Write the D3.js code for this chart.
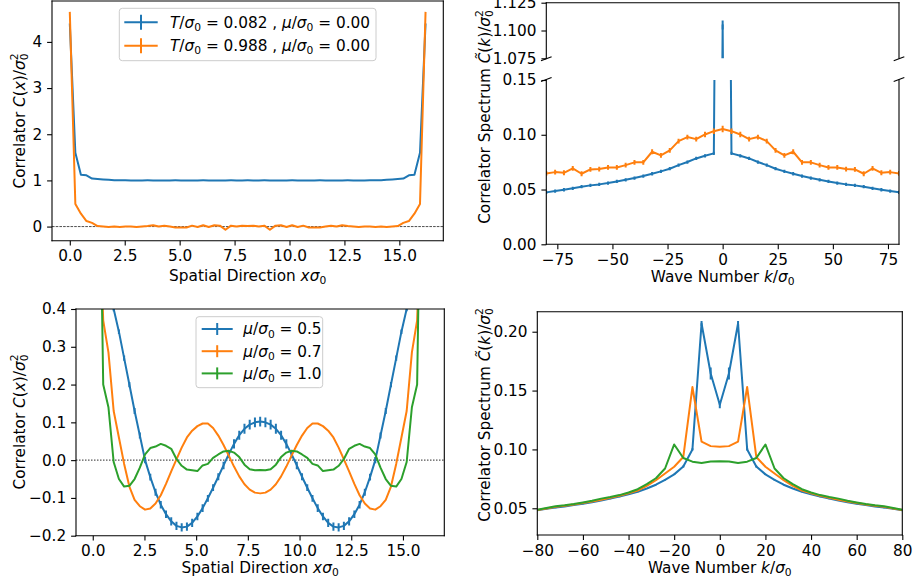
<!DOCTYPE html>
<html>
<head>
<meta charset="utf-8">
<script src="https://cdn.jsdelivr.net/npm/d3@7"></script>
<style>
  body { margin: 0; background: #fff; }
  svg { display: block; font-family: "DejaVu Sans", sans-serif; }
</style>
</head>
<body>
<svg id="chart" width="913" height="584"></svg>
<script>
// position-space lattice (left panels)
const latticeSpacing = 0.253;
const nSites = 65;
const xSites = d3.range(nSites).map(i => i * latticeSpacing);

// momentum grid (right panels)
const kWave = [-80, -76, -72, -68, -64, -60, -56, -52, -48, -44, -40, -36, -32, -28, -24, -20, -16, -12, -8, -4,
    0, 4, 8, 12, 16, 20, 24, 28, 32, 36, 40, 44, 48, 52, 56, 60, 64, 68, 72, 76, 80];

// top left: correlator at two temperatures, mu = 0
const corrLowT = [4.40, 1.60, 1.12, 1.11, 1.04, 1.03, 1.02, 1.012, 1.006, 1.003, 1.001,
    1.000, 0.999, 1.000, 1.001, 1.000, 0.999, 1.000, 1.000, 1.001, 1.000, 0.999,
    1.000, 1.000, 1.001, 1.000, 0.999, 1.000, 1.000, 1.001, 1.000, 1.000, 1.001,
    1.000, 1.000, 1.001, 1.000, 1.000, 0.999, 1.000, 1.001, 1.000, 1.000, 0.999,
    1.000, 1.001, 1.000, 1.000, 0.999, 1.000, 1.001, 1.000, 0.999, 1.000, 1.001,
    1.003, 1.006, 1.012, 1.02, 1.03, 1.04, 1.11, 1.12, 1.60, 4.40];
const corrHighT = [4.65, 0.49, 0.28, 0.12, 0.08, 0.01, 0.00, -0.01, 0.00, -0.01, 0.00,
    0.00, -0.01, 0.00, 0.01, 0.03, 0.00, 0.02, 0.00, -0.02, -0.02, -0.02,
    0.02, -0.01, 0.03, -0.01, 0.03, 0.02, -0.07, 0.02, 0.00, 0.02, 0.01,
    0.02, 0.00, 0.02, -0.07, 0.02, 0.03, -0.01, 0.03, -0.01, 0.02, -0.02,
    -0.02, -0.02, 0.00, 0.02, 0.00, 0.03, 0.01, 0.00, -0.01, 0.00, 0.00,
    -0.01, 0.00, -0.01, 0.00, 0.01, 0.08, 0.12, 0.28, 0.49, 4.65];

// top right: spectrum at two temperatures
const specLowT = [0.0474, 0.0486, 0.0498, 0.0511, 0.0526, 0.0538, 0.0547, 0.0559, 0.0574, 0.0589,
    0.0605, 0.0623, 0.0644, 0.0666, 0.0690, 0.0723, 0.0751, 0.0784, 0.0808, 0.0830,
    1.105,
    0.0830, 0.0808, 0.0784, 0.0751, 0.0723, 0.0690, 0.0666, 0.0644, 0.0623, 0.0605,
    0.0589, 0.0574, 0.0559, 0.0547, 0.0538, 0.0526, 0.0511, 0.0498, 0.0486, 0.0474];
const specLowTErr = [0.0015, 0.0015, 0.0015, 0.0015, 0.0015, 0.0015, 0.0015, 0.0015, 0.0015, 0.0015,
    0.0015, 0.0015, 0.0015, 0.0015, 0.0015, 0.0015, 0.0015, 0.0015, 0.0015, 0.0015,
    0.004,
    0.0015, 0.0015, 0.0015, 0.0015, 0.0015, 0.0015, 0.0015, 0.0015, 0.0015, 0.0015,
    0.0015, 0.0015, 0.0015, 0.0015, 0.0015, 0.0015, 0.0015, 0.0015, 0.0015, 0.0015];
const specHighT = [0.0647, 0.0659, 0.0653, 0.0693, 0.0644, 0.0684, 0.0687, 0.0702, 0.0702, 0.0723,
    0.0748, 0.0748, 0.0845, 0.0812, 0.0857, 0.0942, 0.0979, 0.0960, 0.1003, 0.1033,
    0.1052,
    0.1033, 0.1003, 0.0960, 0.0979, 0.0942, 0.0857, 0.0812, 0.0845, 0.0748, 0.0748,
    0.0723, 0.0702, 0.0702, 0.0687, 0.0684, 0.0644, 0.0693, 0.0653, 0.0659, 0.0647];
const specHighTErr = [0.0022, 0.0022, 0.0022, 0.0022, 0.0022, 0.0022, 0.0022, 0.0022, 0.0022, 0.0022,
    0.0022, 0.0022, 0.0022, 0.0022, 0.0022, 0.0022, 0.0022, 0.0022, 0.0025, 0.0025,
    0.003,
    0.0025, 0.0025, 0.0022, 0.0022, 0.0022, 0.0022, 0.0022, 0.0022, 0.0022, 0.0022,
    0.0022, 0.0022, 0.0022, 0.0022, 0.0022, 0.0022, 0.0022, 0.0022, 0.0022, 0.0022];

// bottom left: correlator at three chemical potentials
const corrMu05 = [4.20, 1.50, 0.85, 0.55, 0.40, 0.34, 0.27, 0.20, 0.13, 0.065, 0.000,
    -0.045, -0.085, -0.118, -0.143, -0.162, -0.174, -0.178, -0.176, -0.166, -0.149, -0.127,
    -0.101, -0.073, -0.044, -0.014, 0.016, 0.043, 0.066, 0.083, 0.094, 0.100, 0.102,
    0.100, 0.094, 0.083, 0.066, 0.043, 0.016, -0.014, -0.044, -0.073, -0.101, -0.127,
    -0.149, -0.166, -0.176, -0.178, -0.174, -0.162, -0.143, -0.118, -0.085, -0.045, 0.000,
    0.065, 0.13, 0.20, 0.27, 0.34, 0.40, 0.55, 0.85, 1.50, 4.20];
const corrMu05Err = [0.003, 0.003, 0.004, 0.005, 0.006, 0.006, 0.007, 0.007, 0.008, 0.008, 0.008,
    0.009, 0.009, 0.010, 0.010, 0.011, 0.011, 0.011, 0.011, 0.011, 0.010, 0.010,
    0.009, 0.009, 0.009, 0.010, 0.011, 0.012, 0.012, 0.013, 0.013, 0.013, 0.013,
    0.013, 0.013, 0.013, 0.012, 0.012, 0.011, 0.010, 0.009, 0.009, 0.009, 0.010,
    0.010, 0.011, 0.011, 0.011, 0.011, 0.011, 0.010, 0.010, 0.009, 0.009, 0.008,
    0.008, 0.008, 0.007, 0.007, 0.006, 0.006, 0.005, 0.004, 0.003, 0.003];
const corrMu07 = [4.30, 0.75, 0.37, 0.285, 0.13, 0.06, -0.01, -0.07, -0.105, -0.122, -0.131,
    -0.128, -0.115, -0.093, -0.063, -0.030, 0.002, 0.033, 0.060, 0.078, 0.090, 0.097,
    0.097, 0.085, 0.065, 0.040, 0.012, -0.017, -0.043, -0.064, -0.078, -0.086, -0.088,
    -0.086, -0.078, -0.064, -0.043, -0.017, 0.012, 0.040, 0.065, 0.085, 0.097, 0.097,
    0.090, 0.078, 0.060, 0.033, 0.002, -0.030, -0.063, -0.093, -0.115, -0.128, -0.131,
    -0.122, -0.105, -0.07, -0.01, 0.06, 0.13, 0.285, 0.37, 0.75, 4.30];
const corrMu10 = [4.10, 1.10, 0.20, 0.14, -0.005, -0.05, -0.07, -0.068, -0.05, -0.02, 0.015,
    0.032, 0.036, 0.043, 0.038, 0.030, 0.003, -0.015, -0.025, -0.027, -0.029, -0.014,
    -0.010, 0.006, 0.015, 0.023, 0.025, 0.020, 0.008, -0.012, -0.024, -0.027, -0.026,
    -0.027, -0.024, -0.012, 0.008, 0.020, 0.025, 0.023, 0.015, 0.006, -0.010, -0.014,
    -0.029, -0.027, -0.025, -0.015, 0.003, 0.030, 0.038, 0.043, 0.036, 0.032, 0.015,
    -0.02, -0.05, -0.068, -0.07, -0.05, -0.005, 0.14, 0.20, 1.10, 4.10];

// bottom right: spectrum at three chemical potentials
const specMu05 = [0.0483, 0.0495, 0.0506, 0.0516, 0.0527, 0.0539, 0.0552, 0.0566, 0.0582, 0.0599,
    0.0618, 0.0641, 0.0668, 0.0700, 0.0742, 0.0788, 0.0855, 0.1000, 0.2070, 0.1645,
    0.1380,
    0.1645, 0.2070, 0.1000, 0.0855, 0.0788, 0.0742, 0.0700, 0.0668, 0.0641, 0.0618,
    0.0599, 0.0582, 0.0566, 0.0552, 0.0539, 0.0527, 0.0516, 0.0506, 0.0495, 0.0483];
const specMu05Err = [0.0005, 0.0005, 0.0005, 0.0005, 0.0005, 0.0005, 0.0005, 0.0005, 0.0005, 0.0005,
    0.0005, 0.0005, 0.0005, 0.0005, 0.0005, 0.0005, 0.0008, 0.0010, 0.0020, 0.0050,
    0.0030,
    0.0050, 0.0020, 0.0010, 0.0008, 0.0005, 0.0005, 0.0005, 0.0005, 0.0005, 0.0005,
    0.0005, 0.0005, 0.0005, 0.0005, 0.0005, 0.0005, 0.0005, 0.0005, 0.0005, 0.0005];
const specMu07 = [0.0486, 0.0499, 0.0512, 0.0522, 0.0533, 0.0545, 0.0558, 0.0573, 0.0589, 0.0606,
    0.0627, 0.0651, 0.0690, 0.0738, 0.0795, 0.0853, 0.0936, 0.1530, 0.1066, 0.1028,
    0.1022,
    0.1028, 0.1066, 0.1530, 0.0936, 0.0853, 0.0795, 0.0738, 0.0690, 0.0651, 0.0627,
    0.0606, 0.0589, 0.0573, 0.0558, 0.0545, 0.0533, 0.0522, 0.0512, 0.0499, 0.0486];
const specMu10 = [0.0488, 0.0503, 0.0518, 0.0526, 0.0537, 0.0550, 0.0564, 0.0582, 0.0596, 0.0612,
    0.0634, 0.0662, 0.0705, 0.0755, 0.0838, 0.1042, 0.0927, 0.0896, 0.0884, 0.0898,
    0.0900,
    0.0898, 0.0884, 0.0896, 0.0927, 0.1042, 0.0838, 0.0755, 0.0705, 0.0662, 0.0634,
    0.0612, 0.0596, 0.0582, 0.0564, 0.0550, 0.0537, 0.0526, 0.0518, 0.0503, 0.0488];

// ticks
const xTicksSpace = [0, 2.5, 5, 7.5, 10, 12.5, 15];
const yTicksTL = [0, 1, 2, 3, 4];
const xTicksTR = [-75, -50, -25, 0, 25, 50, 75];
const yTicksTRLow = [0, 0.05, 0.10, 0.15];
const yTicksTRHigh = [1.075, 1.100, 1.125];
const yTicksBL = [-0.2, -0.1, 0, 0.1, 0.2, 0.3, 0.4];
const xTicksBR = [-80, -60, -40, -20, 0, 20, 40, 60, 80];
const yTicksBR = [0.05, 0.10, 0.15, 0.20];

// legend labels (mathtext pieces)
const legendTL = [
    [["T", "i"], ["/", ""], ["σ", "i"], ["0", "sub"], [" = 0.082 , ", ""], ["μ", "i"], ["/", ""], ["σ", "i"], ["0", "sub"], [" = 0.00", ""]],
    [["T", "i"], ["/", ""], ["σ", "i"], ["0", "sub"], [" = 0.988 , ", ""], ["μ", "i"], ["/", ""], ["σ", "i"], ["0", "sub"], [" = 0.00", ""]]
];
const legendBL = [
    [["μ", "i"], ["/", ""], ["σ", "i"], ["0", "sub"], [" = 0.5", ""]],
    [["μ", "i"], ["/", ""], ["σ", "i"], ["0", "sub"], [" = 0.7", ""]],
    [["μ", "i"], ["/", ""], ["σ", "i"], ["0", "sub"], [" = 1.0", ""]]
];
const labelSpace = [["Spatial Direction ", ""], ["x", "i"], ["σ", "i"], ["0", "sub"]];
const labelWave = [["Wave Number ", ""], ["k", "i"], ["/", ""], ["σ", "i"], ["0", "sub"]];
const labelCorr = [["Correlator ", ""], ["C", "i"], ["(", ""], ["x", "i"], [")/", ""], ["σ", "i"], ["0", "sub"], ["2", "supOver"]];
const labelSpec = [["Correlator Spectrum ", ""], ["C\u0303", "i"], ["(", ""], ["k", "i"], [")/", ""], ["σ", "i"], ["0", "sub"], ["2", "supOver"]];

const FONT = 15.3;
const colors = ["#1f77b4", "#ff7f0e", "#2ca02c"];
const svg = d3.select("#chart");
let clipCount = 0;

function mathText(sel, parts) {
    let shift = 0;
    parts.forEach(([t, kind]) => {
        const ts = sel.append("tspan").text(t);
        let target = 0;
        if (kind === "i") ts.attr("font-style", "italic");
        if (kind === "sub" || kind === "supOver") ts.attr("font-size", FONT * 0.7);
        if (kind === "sub") target = 3.3;
        if (kind === "supOver") {
            target = -6.6;
            ts.attr("dx", -FONT * 0.7 * 0.636);
        }
        if (target !== shift) ts.attr("dy", target - shift);
        shift = target;
    });
}

function makeAxes(box, xDomain, yDomain) {
    const x = d3.scaleLinear().domain(xDomain).range([box.left, box.right]);
    const y = d3.scaleLinear().domain(yDomain).range([box.bottom, box.top]);
    const id = "clip" + (clipCount++);
    svg.append("clipPath").attr("id", id).append("rect")
        .attr("x", box.left).attr("y", box.top)
        .attr("width", box.right - box.left).attr("height", box.bottom - box.top);
    const plot = svg.append("g").attr("clip-path", `url(#${id})`);
    return { x, y, plot, box };
}

function zeroLine(ax, stroke, dash, width) {
    ax.plot.append("line")
        .attr("x1", ax.box.left).attr("x2", ax.box.right)
        .attr("y1", ax.y(0)).attr("y2", ax.y(0))
        .attr("stroke", stroke).attr("stroke-width", width)
        .attr("stroke-dasharray", dash);
}

function drawSeries(ax, xs, values, errs, color) {
    const pts = values.map((v, i) => [xs[i], v, errs ? errs[i] : 0]);
    ax.plot.append("path")
        .datum(pts)
        .attr("fill", "none")
        .attr("stroke", color)
        .attr("stroke-width", 2)
        .attr("stroke-linejoin", "round")
        .attr("d", d3.line().x(d => ax.x(d[0])).y(d => ax.y(d[1])));
    if (errs) {
        ax.plot.append("g").selectAll("line")
            .data(pts)
            .join("line")
            .attr("x1", d => ax.x(d[0])).attr("x2", d => ax.x(d[0]))
            .attr("y1", d => ax.y(d[1] - d[2])).attr("y2", d => ax.y(d[1] + d[2]))
            .attr("stroke", color).attr("stroke-width", 2);
    }
}

function styleAxis(g) {
    g.attr("font-size", FONT).attr("font-family", "DejaVu Sans");
    g.select(".domain").remove();
    g.selectAll(".tick line").attr("stroke", "#000").attr("stroke-width", 1.1);
    g.selectAll(".tick text").attr("fill", "#000");
}

function bottomAxis(ax, ticks, fmt) {
    svg.append("g")
        .attr("transform", `translate(0,${ax.box.bottom})`)
        .call(d3.axisBottom(ax.x).tickValues(ticks).tickFormat(d3.format(fmt)).tickSize(4.9).tickPadding(4.9))
        .call(styleAxis);
}

function leftAxis(ax, ticks, fmt) {
    svg.append("g")
        .attr("transform", `translate(${ax.box.left},0)`)
        .call(d3.axisLeft(ax.y).tickValues(ticks).tickFormat(d3.format(fmt)).tickSize(4.9).tickPadding(4.9))
        .call(styleAxis);
}

function spines(ax, sides) {
    const b = ax.box;
    const seg = {
        left: [b.left, b.top, b.left, b.bottom],
        right: [b.right, b.top, b.right, b.bottom],
        top: [b.left, b.top, b.right, b.top],
        bottom: [b.left, b.bottom, b.right, b.bottom]
    };
    sides.forEach(s => {
        svg.append("line")
            .attr("x1", seg[s][0]).attr("y1", seg[s][1])
            .attr("x2", seg[s][2]).attr("y2", seg[s][3])
            .attr("stroke", "#000").attr("stroke-width", 1.1)
            .attr("stroke-linecap", "square");
    });
}

function xLabel(ax, parts, baseline) {
    const t = svg.append("text")
        .attr("x", (ax.box.left + ax.box.right) / 2).attr("y", baseline)
        .attr("text-anchor", "middle").attr("font-size", FONT).attr("fill", "#000");
    mathText(t, parts);
}

function yLabel(parts, x, y) {
    const t = svg.append("text")
        .attr("transform", `translate(${x},${y}) rotate(-90)`)
        .attr("text-anchor", "middle").attr("font-size", FONT).attr("fill", "#000");
    mathText(t, parts);
}

function legend(lg, labels) {
    const g = svg.append("g");
    g.append("rect")
        .attr("x", lg.x).attr("y", lg.y).attr("width", lg.w).attr("height", lg.h)
        .attr("rx", 3).attr("fill", "#fff").attr("fill-opacity", 0.8)
        .attr("stroke", "#ccc").attr("stroke-width", 1);
    labels.forEach((parts, i) => {
        const cy = lg.firstY + i * lg.step;
        const cx = (lg.hx0 + lg.hx1) / 2;
        g.append("line").attr("x1", lg.hx0).attr("x2", lg.hx1).attr("y1", cy).attr("y2", cy)
            .attr("stroke", colors[i]).attr("stroke-width", 2);
        g.append("line").attr("x1", cx).attr("x2", cx).attr("y1", cy - lg.barH / 2).attr("y2", cy + lg.barH / 2)
            .attr("stroke", colors[i]).attr("stroke-width", 2);
        const t = g.append("text").attr("x", lg.tx).attr("y", cy).attr("dy", "0.35em")
            .attr("font-size", FONT).attr("fill", "#000");
        mathText(t, parts);
    });
}

function breakMark(cx, cy) {
    svg.append("line")
        .attr("x1", cx - 5.3).attr("y1", cy + 2)
        .attr("x2", cx + 5.3).attr("y2", cy - 2)
        .attr("stroke", "#000").attr("stroke-width", 1.1);
}

// ---- top left ----
const tl = makeAxes({ left: 52, right: 443.3, top: 1, bottom: 240.7 }, [-0.81, 17.0], [-0.306, 4.886]);
zeroLine(tl, "#000", "2.6,1.1", 0.7);
drawSeries(tl, xSites, corrLowT, null, colors[0]);
drawSeries(tl, xSites, corrHighT, null, colors[1]);
spines(tl, ["left", "right", "top", "bottom"]);
bottomAxis(tl, xTicksSpace, ".1f");
leftAxis(tl, yTicksTL, "d");
xLabel(tl, labelSpace, 281);
yLabel(labelCorr, 25, 121);
legend({ x: 119.3, y: 8.3, w: 256.7, h: 52.4, firstY: 22.3, step: 23.4, hx0: 124.3, hx1: 157.7, barH: 15, tx: 170 }, legendTL);

// ---- top right (broken axis) ----
const trHigh = makeAxes({ left: 546.3, right: 899, top: 2.7, bottom: 58.3 }, [-80, 80], [1.075, 1.125]);
const trLow = makeAxes({ left: 546.3, right: 899, top: 80, bottom: 244.3 }, [-80, 80], [0, 0.15]);
[trHigh, trLow].forEach(ax => {
    drawSeries(ax, kWave, specLowT, specLowTErr, colors[0]);
    drawSeries(ax, kWave, specHighT, specHighTErr, colors[1]);
});
spines(trHigh, ["left", "right", "top"]);
spines(trLow, ["left", "right", "bottom"]);
leftAxis(trHigh, yTicksTRHigh, ".3f");
leftAxis(trLow, yTicksTRLow, ".2f");
bottomAxis(trLow, xTicksTR, "d");
breakMark(546.3, 58.8);
breakMark(899, 58.8);
breakMark(546.3, 79.5);
breakMark(899, 79.5);
xLabel(trLow, labelWave, 282);
yLabel(labelSpec, 489.5, 117);

// ---- bottom left ----
const bl = makeAxes({ left: 76, right: 444.3, top: 309, bottom: 535.7 }, [-0.81, 17.0], [-0.2, 0.4]);
zeroLine(bl, "#555", "1.5,1.5", 1.1);
drawSeries(bl, xSites, corrMu05, corrMu05Err, colors[0]);
drawSeries(bl, xSites, corrMu07, null, colors[1]);
drawSeries(bl, xSites, corrMu10, null, colors[2]);
spines(bl, ["left", "right", "top", "bottom"]);
bottomAxis(bl, xTicksSpace, ".1f");
leftAxis(bl, yTicksBL, ".1f");
xLabel(bl, labelSpace, 573);
yLabel(labelCorr, 25, 422);
legend({ x: 196, y: 316.7, w: 126.7, h: 71, firstY: 329, step: 22.2, hx0: 201.7, hx1: 232.7, barH: 12, tx: 243.3 }, legendBL);

// ---- bottom right ----
const br = makeAxes({ left: 537.3, right: 902.3, top: 311.7, bottom: 535 }, [-80, 80], [0.0273, 0.217]);
drawSeries(br, kWave, specMu05, specMu05Err, colors[0]);
drawSeries(br, kWave, specMu07, null, colors[1]);
drawSeries(br, kWave, specMu10, null, colors[2]);
spines(br, ["left", "right", "top", "bottom"]);
bottomAxis(br, xTicksBR, "d");
leftAxis(br, yTicksBR, ".2f");
xLabel(br, labelWave, 573);
yLabel(labelSpec, 489.5, 415);
</script>
</body>
</html>
